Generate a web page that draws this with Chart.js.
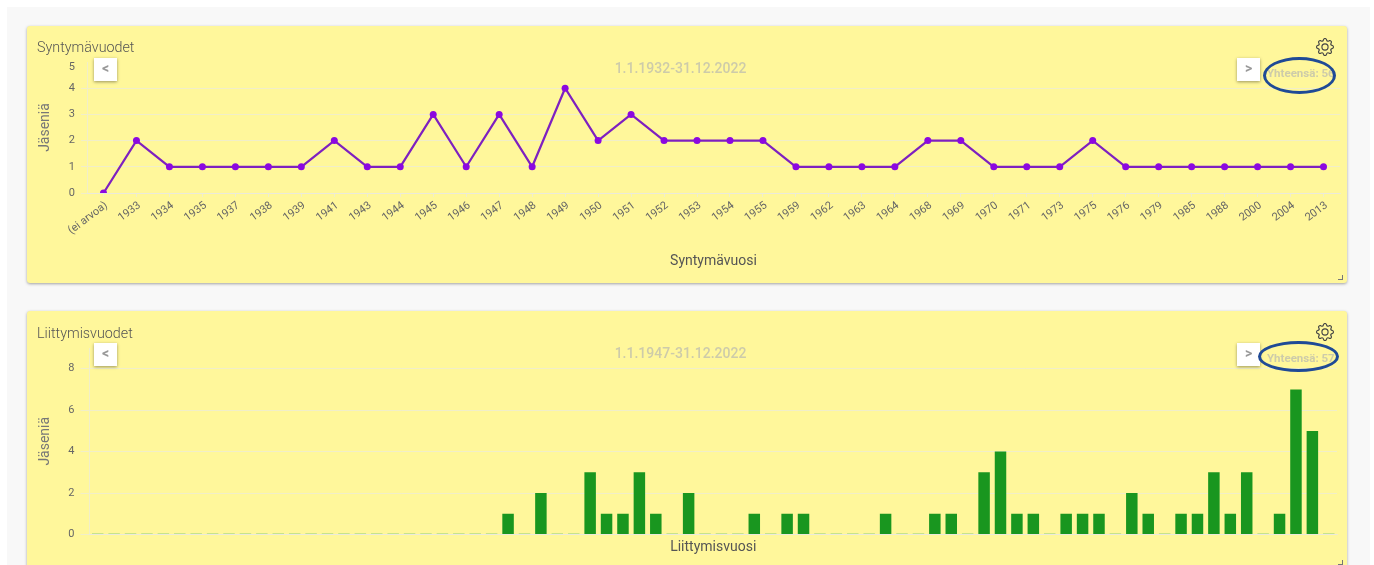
<!DOCTYPE html>
<html>
<head>
<meta charset="utf-8">
<title>Jäsentilastot</title>
<script src="https://cdn.jsdelivr.net/npm/chart.js@4"></script>
<style>
  html, body { margin: 0; padding: 0; background: #fff; width: 1374px; height: 565px; overflow: hidden; font-family: Roboto, sans-serif; }
  #panel { position: absolute; left: 7px; top: 7px; width: 1363px; height: 558px; background: #f8f8f8; }
  .card { position: absolute; left: 27px; width: 1320px; height: 257px; background: #fff79b; border-radius: 3px; box-shadow: 0 1px 3px rgba(0,0,0,.35); }
  .card canvas { position: absolute; left: 0; top: 0; }
  .title { position: absolute; left: 10px; top: 13px; font-size: 14.3px; font-weight: 300; color: #555; }
  .range { position: absolute; left: 0; width: 1307px; top: 34px; text-align: center; font-size: 14px; font-weight: 500; color: #cdcbaa; }
  .btn { position: absolute; top: 32px; width: 23px; height: 23px; background: #fff; box-shadow: 0 1px 3px rgba(0,0,0,.4); text-align: center; font-size: 14px; line-height: 21px; font-weight: 700; color: #999; }
  .total { position: absolute; left: 1240px; top: 40px; font-size: 11.5px; font-weight: 700; color: #cdcbaa; white-space: nowrap; }
  .ring { position: absolute; border: 3px solid #1f4a96; border-radius: 50%; box-sizing: border-box; }
  .gear { position: absolute; left: 1289px; top: 12px; }
  .grip { position: absolute; right: 4px; bottom: 3px; width: 4px; height: 4px; border-right: 1px solid #777; border-bottom: 1px solid #777; }
</style>
</head>
<body>
<div id="panel"></div>

<div class="card" style="top:26px">
  <canvas id="lineChart" width="1320" height="257"></canvas>
  <div class="title">Syntymävuodet</div>
  <div class="range">1.1.1932-31.12.2022</div>
  <div class="btn" style="left:67px">&lt;</div>
  <div class="btn" style="left:1210px">&gt;</div>
  <div class="total">Yhteensä: 56</div>
  <div class="ring" style="left:1236px;top:31px;width:73px;height:37px"></div>
  <svg class="gear" width="18" height="18" viewBox="0 0 16 16" fill="#444"><use href="#gearShape"/></svg>
  <div class="grip"></div>
</div>

<div class="card" style="top:311px">
  <canvas id="barChart" width="1320" height="257"></canvas>
  <div class="title" style="top:14px">Liittymisvuodet</div>
  <div class="range">1.1.1947-31.12.2022</div>
  <div class="btn" style="left:67px">&lt;</div>
  <div class="btn" style="left:1210px">&gt;</div>
  <div class="total">Yhteensä: 57</div>
  <div class="ring" style="left:1231px;top:30px;width:81px;height:31px"></div>
  <svg class="gear" width="18" height="18" viewBox="0 0 16 16" fill="#444"><use href="#gearShape"/></svg>
  <div class="grip"></div>
</div>

<svg width="0" height="0" style="position:absolute">
  <defs>
    <g id="gearShape">
      <path d="M8 4.754a3.246 3.246 0 1 0 0 6.492 3.246 3.246 0 0 0 0-6.492zM5.754 8a2.246 2.246 0 1 1 4.492 0 2.246 2.246 0 0 1-4.492 0z"/>
      <path d="M9.796 1.343c-.527-1.79-3.065-1.79-3.592 0l-.094.319a.873.873 0 0 1-1.255.52l-.292-.16c-1.64-.892-3.433.902-2.54 2.541l.159.292a.873.873 0 0 1-.52 1.255l-.319.094c-1.79.527-1.79 3.065 0 3.592l.319.094a.873.873 0 0 1 .52 1.255l-.16.292c-.892 1.64.901 3.434 2.541 2.54l.292-.159a.873.873 0 0 1 1.255.52l.094.319c.527 1.79 3.065 1.79 3.592 0l.094-.319a.873.873 0 0 1 1.255-.52l.292.16c1.64.893 3.434-.902 2.54-2.541l-.159-.292a.873.873 0 0 1 .52-1.255l.319-.094c1.79-.527 1.79-3.065 0-3.592l-.319-.094a.873.873 0 0 1-.52-1.255l.16-.292c.893-1.64-.902-3.433-2.541-2.54l-.292.159a.873.873 0 0 1-1.255-.52l-.094-.319zm-2.633.283c.246-.835 1.428-.835 1.674 0l.094.319a1.873 1.873 0 0 0 2.693 1.115l.291-.16c.764-.415 1.6.42 1.184 1.185l-.159.292a1.873 1.873 0 0 0 1.116 2.692l.318.094c.835.246.835 1.428 0 1.674l-.319.094a1.873 1.873 0 0 0-1.115 2.693l.16.291c.415.764-.42 1.6-1.185 1.184l-.291-.159a1.873 1.873 0 0 0-2.693 1.116l-.094.318c-.246.835-1.428.835-1.674 0l-.094-.319a1.873 1.873 0 0 0-2.692-1.115l-.292.16c-.764.415-1.6-.42-1.184-1.185l.159-.291A1.873 1.873 0 0 0 1.945 8.93l-.319-.094c-.835-.246-.835-1.428 0-1.674l.319-.094A1.873 1.873 0 0 0 3.06 4.377l-.16-.292c-.415-.764.42-1.6 1.185-1.184l.292.159a1.873 1.873 0 0 0 2.692-1.115l.094-.319z"/>
    </g>
  </defs>
</svg>

<script>
// Syntymävuodet
const birthYears = ['(ei arvoa)', '1933', '1934', '1935', '1937', '1938', '1939', '1941', '1943', '1944', '1945', '1946', '1947', '1948', '1949', '1950', '1951', '1952', '1953', '1954', '1955', '1959', '1962', '1963', '1964', '1968', '1969', '1970', '1971', '1973', '1975', '1976', '1979', '1985', '1988', '2000', '2004', '2013'];
const birthCounts = [0, 2, 1, 1, 1, 1, 1, 2, 1, 1, 3, 1, 3, 1, 4, 2, 3, 2, 2, 2, 2, 1, 1, 1, 1, 2, 2, 1, 1, 1, 2, 1, 1, 1, 1, 1, 1, 1];

// Liittymisvuodet, 1947-2022
const joinYears = ['1947', '1948', '1949', '1950', '1951', '1952', '1953', '1954', '1955', '1956', '1957', '1958', '1959', '1960', '1961', '1962', '1963', '1964', '1965', '1966', '1967', '1968', '1969', '1970', '1971', '1972', '1973', '1974', '1975', '1976', '1977', '1978', '1979', '1980', '1981', '1982', '1983', '1984', '1985', '1986', '1987', '1988', '1989', '1990', '1991', '1992', '1993', '1994', '1995', '1996', '1997', '1998', '1999', '2000', '2001', '2002', '2003', '2004', '2005', '2006', '2007', '2008', '2009', '2010', '2011', '2012', '2013', '2014', '2015', '2016', '2017', '2018', '2019', '2020', '2021', '2022'];
const joinCounts = [0, 0, 0, 0, 0, 0, 0, 0, 0, 0, 0, 0, 0, 0, 0, 0, 0, 0, 0, 0, 0, 0, 0, 0, 0, 1, 0, 2, 0, 0, 3, 1, 1, 3, 1, 0, 2, 0, 0, 0, 1, 0, 1, 1, 0, 0, 0, 0, 1, 0, 0, 1, 1, 0, 3, 4, 1, 1, 0, 1, 1, 1, 0, 2, 1, 0, 1, 1, 3, 1, 3, 0, 1, 7, 5, 0];

const textColor = '#666';
const gridColor = 'rgba(232,232,232,0.6)';
Chart.defaults.font.family = 'Roboto, sans-serif';
Chart.defaults.color = textColor;

function yAxis(max, step, width, tickLength) {
    return {
        min: 0,
        max: max,
        afterFit: function(scale) { scale.width = width; },
        grid: {
            // ylimmällä arvolla ei näy viivaa
            color: function(ctx) { return ctx.tick && ctx.tick.value === max ? 'rgba(0,0,0,0)' : gridColor; },
            tickLength: tickLength
        },
        border: { color: gridColor },
        title: { display: true, text: 'Jäseniä', color: '#777', font: { size: 14 }, padding: 0 },
        ticks: { stepSize: step, padding: 6, font: { size: 11 }, color: textColor, includeBounds: false }
    };
}

// Syntymävuodet: viivakaavio
const lineY = yAxis(5, 1, 50, 6);
// ylin numero on alkuperäisessä hieman alempana kuin viiva
lineY.ticks.callback = function(v) { return v === 5 ? ['', '5'] : v; };
lineY.ticks.font = function(ctx) {
    return ctx.tick && ctx.tick.value === 5 ? { size: 11, lineHeight: '10px' } : { size: 11 };
};

new Chart(document.getElementById('lineChart'), {
    type: 'line',
    data: {
        labels: birthYears,
        datasets: [{
            data: birthCounts,
            borderColor: '#7e20c0',
            borderWidth: 2.2,
            backgroundColor: '#8b08e0',
            pointBackgroundColor: '#8b08e0',
            pointBorderWidth: 0,
            pointRadius: 3.5,
            tension: 0,
            clip: 0
        }]
    },
    options: {
        responsive: false,
        animation: false,
        layout: { padding: { left: 10, right: 7, top: 36, bottom: 13 } },
        plugins: { legend: { display: false }, tooltip: { enabled: false } },
        scales: {
            x: {
                offset: true,
                afterFit: function(scale) { scale.height = 77; },
                grid: { color: gridColor, tickLength: 4, drawOnChartArea: false },
                border: { color: gridColor },
                title: { display: true, text: 'Syntymävuosi', color: '#555', font: { size: 14 }, padding: 0 },
                ticks: { autoSkip: false, minRotation: 37, maxRotation: 37, labelOffset: 3, font: { size: 11 }, color: textColor, padding: 2 }
            },
            y: lineY
        }
    }
});

// Liittymisvuodet: pylväskaavio
new Chart(document.getElementById('barChart'), {
    type: 'bar',
    data: {
        labels: joinYears,
        datasets: [{
            data: joinCounts,
            backgroundColor: function(ctx) { return ctx.raw === 0 ? '#8fd07a' : '#19961f'; },
            minBarLength: 1,
            barPercentage: 0.7,
            categoryPercentage: 1
        }]
    },
    options: {
        responsive: false,
        animation: false,
        layout: { padding: { left: 10, right: 10, top: 37, bottom: 5 } },
        plugins: { legend: { display: false }, tooltip: { enabled: false } },
        scales: {
            x: {
                afterFit: function(scale) { scale.height = 28.5; },
                grid: { display: false },
                border: { color: gridColor },
                title: { display: true, text: 'Liittymisvuosi', color: '#555', font: { size: 14 }, padding: { top: 0, bottom: 7 } },
                ticks: { display: false }
            },
            y: yAxis(9, 2, 52.5, 9)
        }
    }
});
</script>
</body>
</html>
